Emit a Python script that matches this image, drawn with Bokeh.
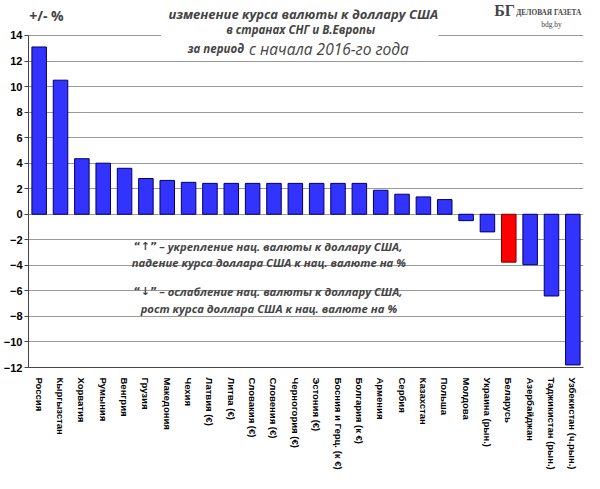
from bokeh.plotting import figure
from bokeh.models import ColumnDataSource, Label, BoxAnnotation, FixedTicker, FactorRange, Range1d
from bokeh.embed import file_html
from bokeh.resources import INLINE

countries = ["Россия", "Кыргызстан", "Хорватия", "Румыния", "Венгрия", "Грузия",
             "Македония", "Чехия", "Латвия (€)", "Литва (€)", "Словакия (€)",
             "Словения (€)", "Черногория (€)", "Эстония (€)", "Босния и Герц. (к €)",
             "Болгария (к €)", "Армения", "Сербия", "Казахстан", "Польша", "Молдова",
             "Украина (рын.)", "Беларусь", "Азербайджан", "Таджикистан (рын.)",
             "Узбекистан (ч.рын.)"]
change = [13.1, 10.5, 4.35, 4.0, 3.6, 2.8, 2.65, 2.5, 2.42, 2.42, 2.42, 2.42, 2.42,
          2.42, 2.42, 2.42, 1.88, 1.57, 1.36, 1.15, -0.5, -1.38, -3.75, -3.95, -6.4, -11.8]
highlight = "Беларусь"
y_ticks = [-12, -10, -8, -6, -4, -2, 0, 2, 4, 6, 8, 10, 12, 14]

unit_label = "+/- %"
title_lines = ["изменение  курса валюты к доллару США", "в странах СНГ и В.Европы"]
title_line3a = "за период"
title_line3b = "с начала 2016-го года"
note_arrows = ["“↑”", "“↓”"]
note_heads = ["– укрепление нац. валюты к доллару США,",
              "– ослабление нац. валюты к доллару США,"]
note_tails = ["падение курса доллара США к нац. валюте на %",
              "рост курса доллара США к нац. валюте на %"]

fill = ["#FF0000" if c == highlight else "#3333FF" for c in countries]
edge = ["#7A0000" if c == highlight else "#000066" for c in countries]
src = ColumnDataSource(dict(x=countries, top=change, fill=fill, edge=edge))

p = figure(x_range=FactorRange(factors=countries), y_range=Range1d(-12, 16.74),
           width=584, height=473, output_backend="svg", toolbar_location=None,
           min_border_left=20, min_border_right=1, min_border_top=0, min_border_bottom=106)
p.outline_line_color = None
p.background_fill_color = "white"
p.border_fill_color = "white"

p.vbar(x="x", top="top", bottom=0, width=0.68, source=src,
       fill_color="fill", line_color="edge", line_width=1)

# axes
p.yaxis.ticker = FixedTicker(ticks=y_ticks)
p.yaxis.bounds = (-12, 14)
p.yaxis.major_label_text_font = "Liberation Sans"
p.yaxis.major_label_text_font_style = "bold"
p.yaxis.major_label_text_font_size = "11px"
p.yaxis.major_label_text_color = "black"
p.yaxis.axis_line_color = "#444444"
p.yaxis.major_tick_line_color = "#444444"
p.yaxis.major_tick_out = 4
p.yaxis.major_tick_in = 0
p.yaxis.minor_tick_line_color = None
p.yaxis.major_label_standoff = 2

p.xaxis.major_label_orientation = "vertical"
p.xaxis.major_label_text_font = "Liberation Sans"
p.xaxis.major_label_text_font_style = "bold"
p.xaxis.major_label_text_font_size = "9.5px"
p.xaxis.major_label_text_color = "black"
p.xaxis.axis_line_color = "#444444"
p.xaxis.major_tick_line_color = None
p.xaxis.major_label_standoff = 4

p.xgrid.grid_line_color = None
p.ygrid.grid_line_color = "#9A9A9A"
p.ygrid.ticker = FixedTicker(ticks=y_ticks)

# white box behind title
p.add_layout(BoxAnnotation(left=6.21, right=19.2, bottom=12.4, top=16.74,
                           fill_color="white", fill_alpha=1.0, line_color=None))

F = "Open Sans"
p.add_layout(Label(x=0.03, y=15.6, text=unit_label, text_font=F, text_font_style="bold",
                   text_font_size="14px", text_baseline="middle", text_align="left"))

p.add_layout(Label(x=12.95, y=15.72, text=title_lines[0], text_font=F,
                   text_font_style="bold italic", text_font_size="13px",
                   text_baseline="middle", text_align="center"))
p.add_layout(Label(x=12.75, y=14.43, text=title_lines[1], text_font=F,
                   text_font_style="bold italic", text_font_size="11.5px",
                   text_baseline="middle", text_align="center"))
p.add_layout(Label(x=10.1, y=12.98, text=title_line3a, text_font=F,
                   text_font_style="bold italic", text_font_size="11.5px",
                   text_baseline="middle", text_align="right"))
p.add_layout(Label(x=10.33, y=12.98, text=title_line3b, text_font=F,
                   text_font_style="italic", text_font_size="15.5px",
                   text_baseline="middle", text_align="left"))

# logo
p.add_layout(Label(x=21.82, y=15.96, text="БГ", text_font="Liberation Serif",
                   text_font_style="bold", text_font_size="16px",
                   text_baseline="middle", text_align="left"))
p.add_layout(Label(x=22.85, y=15.8, text="ДЕЛОВАЯ ГАЗЕТА", text_font="Liberation Serif",
                   text_font_style="bold", text_font_size="7.3px",
                   text_baseline="middle", text_align="left"))
p.add_layout(Label(x=24.5, y=14.86, text="bdg.by", text_font="Liberation Serif",
                   text_font_size="7.5px", text_baseline="middle", text_align="center"))

# notes
for arrow, head, yv in zip(note_arrows, note_heads, [-2.52, -6.03]):
    p.add_layout(Label(x=6.03, y=yv, text=arrow, text_font="DejaVu Sans",
                       text_font_style="bold", text_font_size="11px",
                       text_baseline="middle", text_align="right"))
    p.add_layout(Label(x=6.13, y=yv, text=head, text_font=F, text_font_style="bold italic",
                       text_font_size="11.3px", text_baseline="middle", text_align="left"))
for tail, yv in zip(note_tails, [-3.75, -7.4]):
    p.add_layout(Label(x=11.26, y=yv, text=tail, text_font=F, text_font_style="bold italic",
                       text_font_size="11.3px", text_baseline="middle", text_align="center"))

open("out.html", "w").write(file_html(p, INLINE))
